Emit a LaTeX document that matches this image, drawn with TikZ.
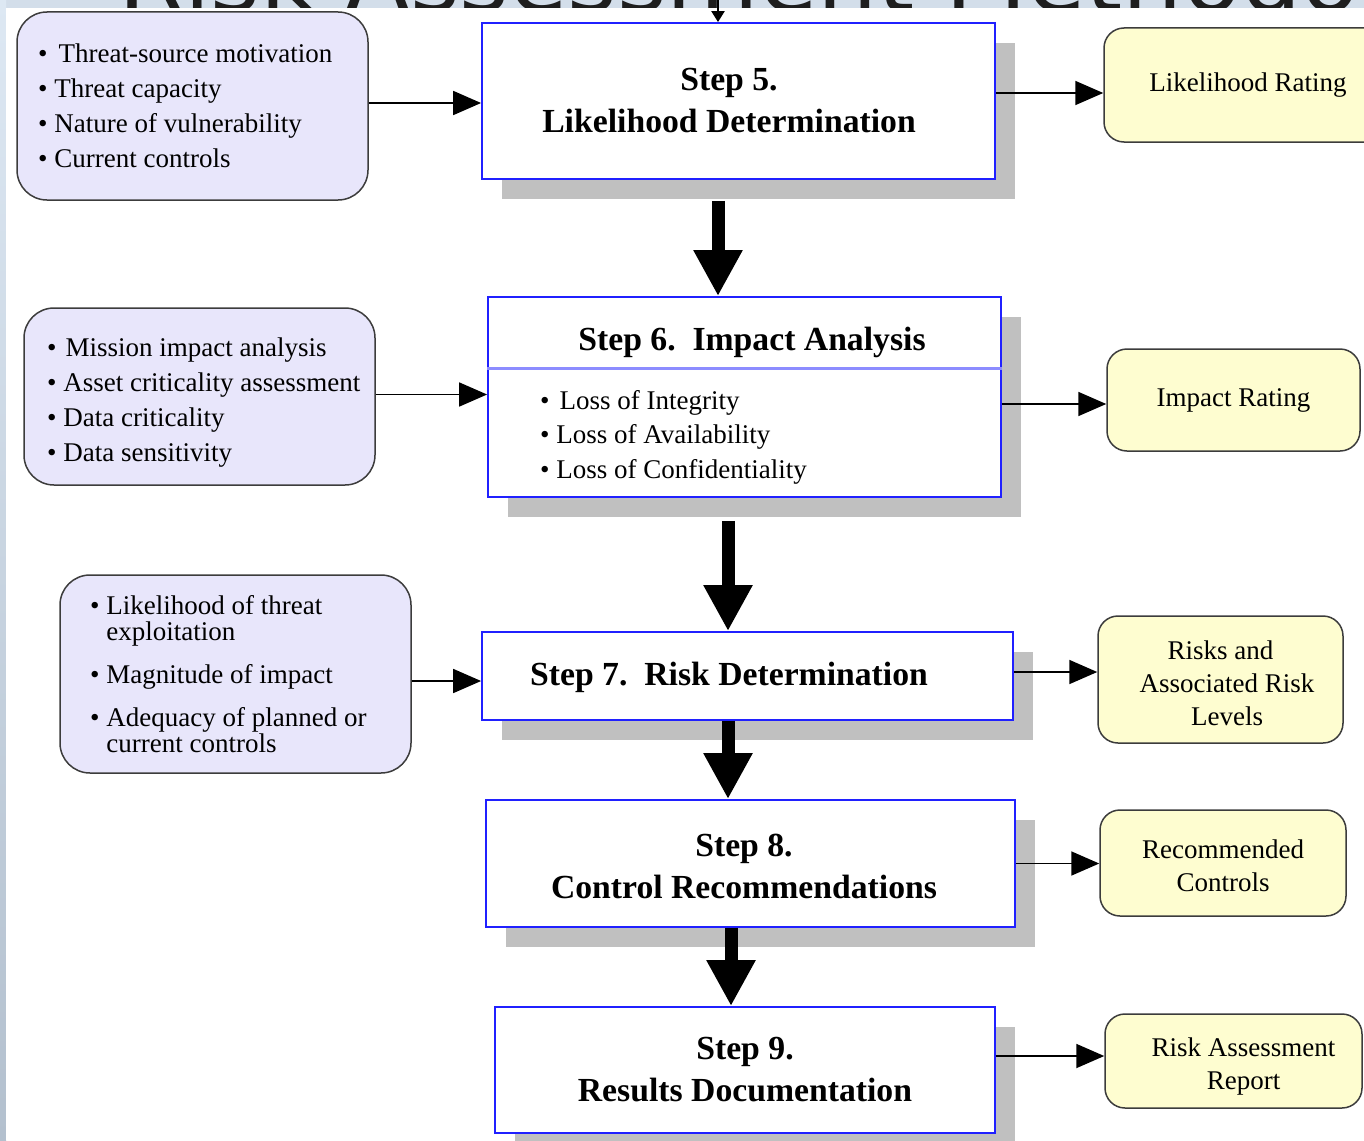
\documentclass[tikz,border=0pt]{standalone}
\usepackage{fontspec}
\setmainfont{Liberation Serif}
\newfontfamily\titlefont{DejaVu Sans}
\usetikzlibrary{arrows.meta,shadows,calc}
\definecolor{lav}{HTML}{E8E6FB}
\definecolor{yel}{HTML}{FEFDD0}
\definecolor{stepblue}{HTML}{2020FF}
\definecolor{sepblue}{HTML}{8C8CFF}
\definecolor{shadowgray}{HTML}{C0C0C0}
\definecolor{edgegray}{HTML}{3C3C3C}
\definecolor{slideblue}{HTML}{D3DEEA}
\definecolor{stripTop}{HTML}{DDE8F3}
\definecolor{stripBot}{HTML}{B3C0CE}
\definecolor{titlegray}{HTML}{1E1E1E}
\begin{document}
\begin{tikzpicture}[x=1pt,y=-1pt,
  stepbox/.style={draw=stepblue, line width=1.8pt, fill=white, inner sep=0pt, align=center,
     font=\fontsize{33.7}{42}\selectfont\bfseries,
     drop shadow={shadow xshift=20pt, shadow yshift=-20pt, fill=shadowgray, opacity=1, draw=none}},
  inbox/.style={draw=edgegray, line width=1.5pt, fill=lav, rounded corners=30pt, inner sep=0pt},
  intext/.style={align=left, inner sep=0pt, font=\fontsize{27}{35}\selectfont},
  outbox/.style={draw=edgegray, line width=1.5pt, fill=yel, rounded corners=20pt, align=center,
     inner sep=0pt, font=\fontsize{27}{33}\selectfont},
  thinarrow/.style={line width=1.8pt, -{Triangle[length=28pt,width=24pt]}},
  bigarrow/.style={line width=13pt, -{Triangle[length=46pt,width=46pt]}},
  sepline/.style={draw=sepblue, line width=3pt},
]
\useasboundingbox (0,0) rectangle (1364,1140);
\clip (0,0) rectangle (1364,1140);
% slide background
\fill[slideblue] (0,0) rectangle (1364,1140);
\shade[top color=stripTop, bottom color=stripBot] (0,0) rectangle (6,1140);
\node[anchor=base west, inner sep=0pt, text=titlegray, font=\titlefont\fontsize{95}{95}\selectfont] (title) at (118,12) {Risk Assessment Methodology};
\fill[white] (6,8) rectangle (1364,1140);

% input boxes
\node[inbox, minimum width=351pt, minimum height=188pt] (b1) at (192.5,106) {};
\node[intext, anchor=west] (b1t) at (38,106) {%
  \textbullet\hspace{11pt}Threat-source motivation\\
  \textbullet\ Threat capacity\\
  \textbullet\ Nature of vulnerability\\
  \textbullet\ Current controls};

\node[inbox, minimum width=351pt, minimum height=177pt] (b2) at (199.5,396.5) {};
\node[intext, anchor=west] (b2t) at (47,403) {%
  \textbullet\hspace{9pt}Mission impact analysis\\
  \textbullet\ Asset criticality assessment\\
  \textbullet\ Data criticality\\
  \textbullet\ Data sensitivity};

\node[inbox, minimum width=351pt, minimum height=198pt] (b3) at (235.5,674) {};
\node[intext, anchor=west, font=\fontsize{27}{26}\selectfont] (b3t) at (90,674) {%
  \textbullet\ Likelihood of threat\\
  \phantom{\textbullet\ }exploitation\\[17pt]
  \textbullet\ Magnitude of impact\\[17pt]
  \textbullet\ Adequacy of planned or\\
  \phantom{\textbullet\ }current controls};

% step boxes
\node[stepbox, minimum width=513pt, minimum height=156pt] (s5) at (738.5,101)
  {Step 5.\rule{19pt}{0pt}\\Likelihood Determination\rule{19pt}{0pt}};
\node[stepbox, minimum width=513pt, minimum height=200pt] (s6) at (744.5,397) {};
\draw[sepline] ([yshift=-72pt]s6.north west) -- ([yshift=-72pt]s6.north east);
\node[inner sep=0pt, font=\fontsize{33.7}{42}\selectfont\bfseries] (s6t) at (752,342) {Step 6.\ \ Impact Analysis};
\node[intext, anchor=west, font=\fontsize{27}{34.5}\selectfont] (s6b) at (540,437) {%
  \textbullet\hspace{10pt}Loss of Integrity\\
  \textbullet\ Loss of Availability\\
  \textbullet\ Loss of Confidentiality};
\node[stepbox, minimum width=531pt, minimum height=88pt] (s7) at (747.5,676)
  {\rule{0pt}{27pt}Step 7.\ \ Risk Determination\rule{37pt}{0pt}};
\node[stepbox, minimum width=529pt, minimum height=127pt] (s8) at (750.5,863.5)
  {\rule{0pt}{28pt}Step 8.\rule{13pt}{0pt}\\Control Recommendations\rule{13pt}{0pt}};
\node[stepbox, minimum width=500pt, minimum height=126pt] (s9) at (745,1070)
  {Step 9.\\Results Documentation};

% output boxes
\node[outbox, minimum width=288pt, minimum height=114pt] (lr) at (1248,85) {Likelihood Rating};
\node[outbox, minimum width=253pt, minimum height=102pt] (ir) at (1233.5,400) {Impact Rating};
\node[outbox, minimum width=245pt, minimum height=127pt] (rk) at (1220.5,679.5) {\rule{0pt}{26pt}Risks and\\\rule{13pt}{0pt}Associated Risk\\\rule{13pt}{0pt}Levels};
\node[outbox, minimum width=246pt, minimum height=106pt] (rc) at (1223,863) {\rule{0pt}{24pt}Recommended\\Controls};
\node[outbox, minimum width=257pt, minimum height=94pt] (rr) at (1233.5,1061) {\rule{0pt}{30pt}\rule{20pt}{0pt}Risk Assessment\\\rule{20pt}{0pt}Report};

% top incoming arrow
\coordinate (tin) at (718,-2);
\draw[line width=2.2pt, -{Triangle[length=11pt,width=13pt]}] (tin) -- (tin |- s5.north);

% thin connectors
\draw[thinarrow] ([yshift=3pt]b1.east) -- ([yshift=3pt]b1.east -| s5.west);
\draw[thinarrow] ([yshift=8pt]s5.east) -- ([yshift=8pt]s5.east -| lr.west);
\draw[thinarrow] ([yshift=2pt]b2.east) -- ([yshift=2pt]b2.east -| s6.west);
\draw[thinarrow] ([yshift=-7pt]s6.east) -- ([yshift=-7pt]s6.east -| ir.west);
\draw[thinarrow] ([yshift=-5pt]s7.west -| b3.east) -- ([yshift=-5pt]s7.west);
\draw[thinarrow] ([yshift=4pt]s7.east) -- ([yshift=4pt]s7.east -| rk.west);
\draw[thinarrow] (s8.east) -- (s8.east -| rc.west);
\draw[thinarrow] ([yshift=14pt]s9.east) -- ([yshift=14pt]s9.east -| rr.west);

% thick step connectors
\draw[bigarrow] ([xshift=-20.5pt,yshift=-21pt]s5.south) coordinate (k5) -- (k5 |- s6.north);
\draw[bigarrow] ([xshift=-16.5pt,yshift=-23pt]s6.south) coordinate (k6) -- (k6 |- s7.north);
\draw[bigarrow] ([xshift=-19.5pt]s7.south) coordinate (k7) -- (k7 |- s8.north);
\draw[bigarrow] ([xshift=-19.5pt]s8.south) coordinate (k8) -- (k8 |- s9.north);
\end{tikzpicture}
\end{document}
